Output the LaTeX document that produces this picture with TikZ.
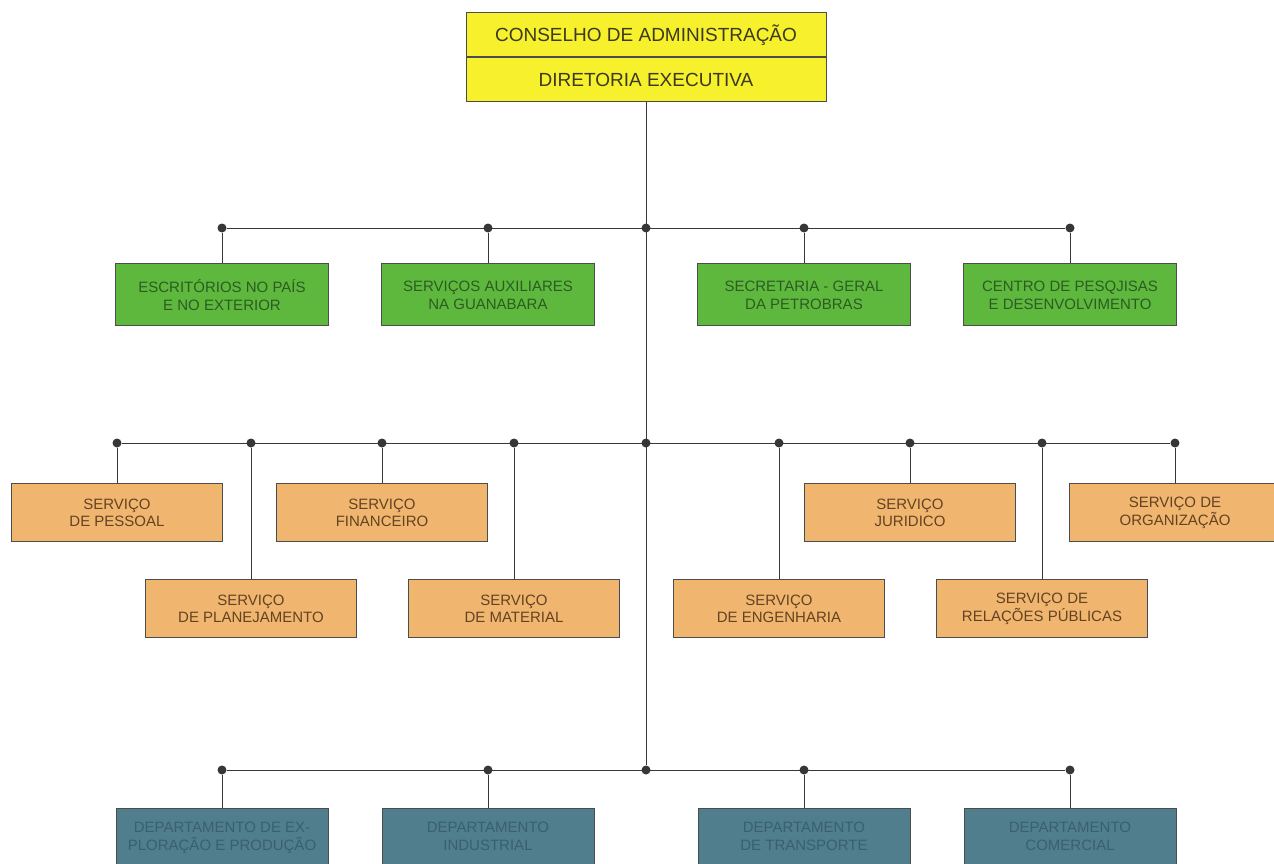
\documentclass[tikz,border=0pt]{standalone}
\usepackage{fontspec}
\setmainfont{Liberation Sans}
\usetikzlibrary{positioning}
\definecolor{boardfill}{RGB}{247,240,44}
\definecolor{boardtext}{RGB}{60,58,30}
\definecolor{stafffill}{RGB}{94,184,62}
\definecolor{stafftext}{RGB}{44,92,34}
\definecolor{servicefill}{RGB}{240,182,112}
\definecolor{servicetext}{RGB}{100,66,34}
\definecolor{deptfill}{RGB}{80,126,140}
\definecolor{depttext}{RGB}{58,96,110}
\definecolor{wire}{RGB}{55,55,55}
\tikzstyle{unit}=[draw=black!70,line width=1pt,align=center,inner sep=0pt]
\tikzstyle{board}=[unit,fill=boardfill,text=boardtext,minimum width=360pt,minimum height=44pt,font=\fontsize{19}{22}\selectfont]
\tikzstyle{staff}=[unit,fill=stafffill,text=stafftext,minimum width=213pt,minimum height=62pt,font=\fontsize{15}{18}\selectfont]
\tikzstyle{service}=[unit,fill=servicefill,text=servicetext,minimum width=211pt,minimum height=58pt,font=\fontsize{15}{17.5}\selectfont]
\tikzstyle{dept}=[unit,fill=deptfill,text=depttext,minimum width=212pt,minimum height=74pt,font=\fontsize{15}{18}\selectfont,text depth=20pt]
\tikzstyle{junction}=[circle,fill=wire,inner sep=0pt,minimum size=9pt]
\newcommand{\newJunction}[2]{\node[junction](#1) at #2 {};}
\newcommand{\newUnit}[4]{\node[#3](#1)[#4]{#2};}
\newcommand{\newLink}[2]{\draw (#1) -- (#2);}
\begin{document}
\begin{tikzpicture}[x=1pt,y=-1pt,
    draw=wire,line width=0.9pt
    ]
    \useasboundingbox (0,0) rectangle (1274,864);
    \clip (0,0) rectangle (1274,864);
    \fill[white] (0,0) rectangle (1274,864);
    % top
    \newUnit{conselho}{CONSELHO DE ADMINISTRAÇÃO}{board}{at={(646,35)}}
    \newUnit{diretoria}{DIRETORIA EXECUTIVA}{board}{below=0pt of conselho}
    % junctions
    \newJunction{g1}{(222,228)}
    \newJunction{g2}{(488,228)}
    \newJunction{g3}{(646,228)}
    \newJunction{g4}{(804,228)}
    \newJunction{g5}{(1070,228)}
    \newJunction{s1}{(117,443)}
    \newJunction{s2}{(251,443)}
    \newJunction{s3}{(382,443)}
    \newJunction{s4}{(514,443)}
    \newJunction{s5}{(646,443)}
    \newJunction{s6}{(779,443)}
    \newJunction{s7}{(910,443)}
    \newJunction{s8}{(1042,443)}
    \newJunction{s9}{(1175,443)}
    \newJunction{d1}{(222,770)}
    \newJunction{d2}{(488,770)}
    \newJunction{d3}{(646,770)}
    \newJunction{d4}{(804,770)}
    \newJunction{d5}{(1070,770)}
    % units
    \newUnit{escritorios}{ESCRITÓRIOS NO PAÍS\\E NO EXTERIOR}{staff}{below=30.5pt of g1}
    \newUnit{auxiliares}{SERVIÇOS AUXILIARES\\NA GUANABARA}{staff}{below=30.5pt of g2}
    \newUnit{secretaria}{SECRETARIA - GERAL\\DA PETROBRAS}{staff}{below=30.5pt of g4}
    \newUnit{centro}{CENTRO DE PESQJISAS\\E DESENVOLVIMENTO}{staff}{below=30.5pt of g5}
    \newUnit{pessoal}{SERVIÇO\\DE PESSOAL}{service}{below=35.5pt of s1}
    \newUnit{planejamento}{SERVIÇO\\DE PLANEJAMENTO}{service}{below=131.5pt of s2}
    \newUnit{financeiro}{SERVIÇO\\FINANCEIRO}{service}{below=35.5pt of s3}
    \newUnit{material}{SERVIÇO\\DE MATERIAL}{service}{below=131.5pt of s4}
    \newUnit{engenharia}{SERVIÇO\\DE ENGENHARIA}{service}{below=131.5pt of s6}
    \newUnit{juridico}{SERVIÇO\\JURIDICO}{service}{below=35.5pt of s7}
    \newUnit{relacoes}{SERVIÇO DE\\RELAÇÕES PÚBLICAS}{service}{below=131.5pt of s8}
    \newUnit{organizacao}{SERVIÇO DE\\ORGANIZAÇÃO}{service}{below=35.5pt of s9}
    \newUnit{exploracao}{DEPARTAMENTO DE EX-\\PLORAÇÃO E PRODUÇÃO}{dept}{below=33.5pt of d1}
    \newUnit{industrial}{DEPARTAMENTO\\INDUSTRIAL}{dept}{below=33.5pt of d2}
    \newUnit{transporte}{DEPARTAMENTO\\DE TRANSPORTE}{dept}{below=33.5pt of d4}
    \newUnit{comercial}{DEPARTAMENTO\\COMERCIAL}{dept}{below=33.5pt of d5}
    % wires
    \newLink{diretoria}{d3}
    \newLink{g1}{g5}
    \newLink{s1}{s9}
    \newLink{d1}{d5}
    \newLink{g1}{escritorios}
    \newLink{g2}{auxiliares}
    \newLink{g4}{secretaria}
    \newLink{g5}{centro}
    \newLink{s1}{pessoal}
    \newLink{s2}{planejamento}
    \newLink{s3}{financeiro}
    \newLink{s4}{material}
    \newLink{s6}{engenharia}
    \newLink{s7}{juridico}
    \newLink{s8}{relacoes}
    \newLink{s9}{organizacao}
    \newLink{d1}{exploracao}
    \newLink{d2}{industrial}
    \newLink{d4}{transporte}
    \newLink{d5}{comercial}
  \end{tikzpicture}
\end{document}
